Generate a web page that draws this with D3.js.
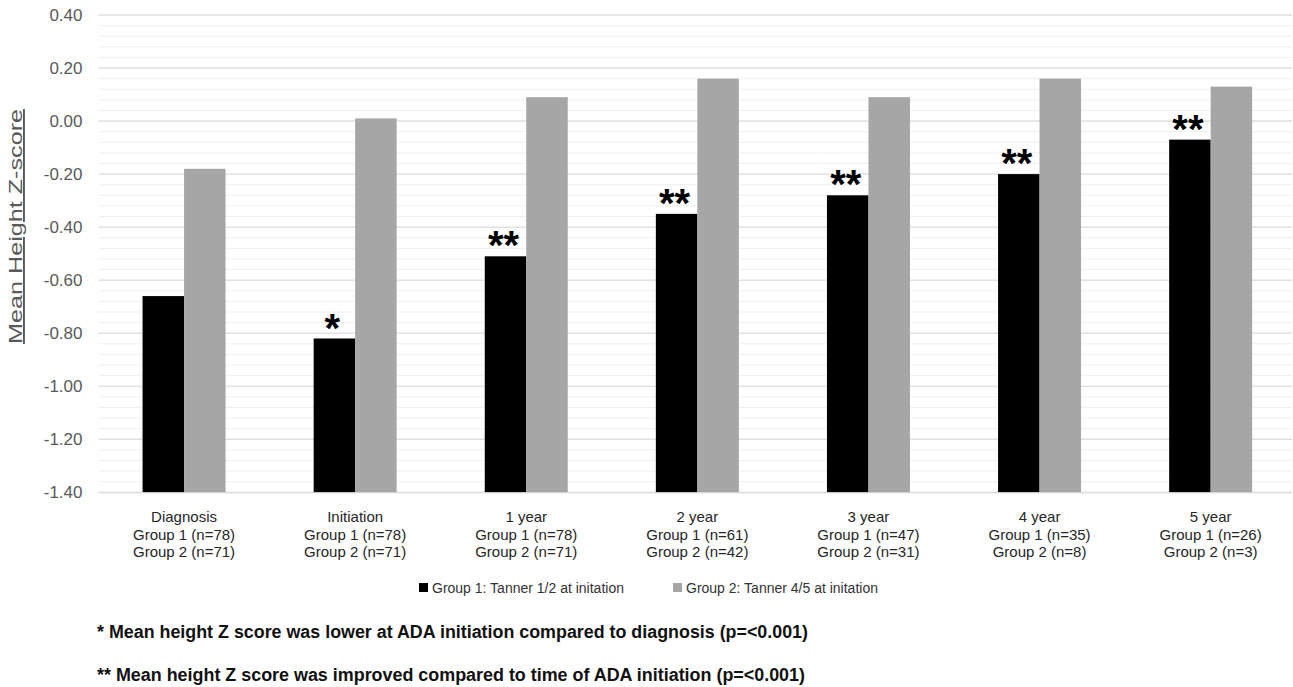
<!DOCTYPE html>
<html>
<head>
<meta charset="utf-8">
<script src="https://cdn.jsdelivr.net/npm/d3@7"></script>
<style>
  html, body { margin: 0; padding: 0; background: #fff; }
  svg { display: block; font-family: "Liberation Sans", Arial, sans-serif; }
</style>
</head>
<body>
<svg id="chart" width="1293" height="687"></svg>
<script>
// Time points and sample sizes per group
const timepoints = ["Diagnosis", "Initiation", "1 year", "2 year", "3 year", "4 year", "5 year"];
const group1N = [78, 78, 78, 61, 47, 35, 26];
const group2N = [71, 71, 71, 42, 31, 8, 3];

// Mean height Z-scores
const group1Values = [-0.66, -0.82, -0.51, -0.35, -0.28, -0.20, -0.07];
const group2Values = [-0.18, 0.01, 0.09, 0.16, 0.09, 0.16, 0.13];

// Significance markers above the Group 1 bars
const significance = ["", "*", "**", "**", "**", "**", "**"];

// Axis ticks
const yTicks = [0.4, 0.2, 0.0, -0.2, -0.4, -0.6, -0.8, -1.0, -1.2, -1.4];
const yMin = -1.4, yMax = 0.4, minorStep = 0.04;

const seriesKeys = ["g1", "g2"];
const seriesNames = ["Group 1: Tanner 1/2 at initation", "Group 2: Tanner 4/5 at initation"];
const seriesColors = ["#000000", "#a6a6a6"];

const footnotes = [
  "* Mean height Z score was lower at ADA initiation compared to diagnosis (p=<0.001)",
  "** Mean height Z score was improved compared to time of ADA initiation (p=<0.001)"
];

const rows = timepoints.map((t, i) => ({
  t, n1: group1N[i], n2: group2N[i], g1: group1Values[i], g2: group2Values[i], sig: significance[i]
}));

const svg = d3.select("#chart");

const plotLeft = 98.5, plotRight = 1296.2, gridRight = 1292;
const x0 = d3.scaleBand().domain(timepoints).range([plotLeft, plotRight])
  .paddingInner(0.515).paddingOuter(0.2575);
const x1 = d3.scaleBand().domain(seriesKeys).range([0, x0.bandwidth()]);
const y = d3.scaleLinear().domain([yMin, yMax]).range([492.3, 15]);

// Minor gridlines
const nMinor = Math.round((yMax - yMin) / minorStep);
const minorVals = d3.range(0, nMinor + 1).map(i => yMin + i * minorStep);
svg.append("g").selectAll("line").data(minorVals).join("line")
  .attr("x1", plotLeft).attr("x2", gridRight)
  .attr("y1", d => y(d)).attr("y2", d => y(d))
  .attr("stroke", "#efefef").attr("stroke-width", 1);

// Major gridlines
svg.append("g").selectAll("line").data(yTicks).join("line")
  .attr("x1", plotLeft).attr("x2", gridRight)
  .attr("y1", d => y(d)).attr("y2", d => y(d))
  .attr("stroke", "#d9d9d9").attr("stroke-width", 1);

// Y axis labels
const fmt = d => d3.format(".2f")(d).replace("\u2212", "-");
const yAxis = svg.append("g").attr("transform", `translate(${plotLeft},0)`)
  .call(d3.axisLeft(y).tickValues(yTicks).tickFormat(fmt).tickSize(0).tickPadding(16));
yAxis.select(".domain").remove();
yAxis.selectAll("text").attr("font-size", 17).attr("fill", "#595959")
  .attr("font-family", "'Liberation Sans', Arial, sans-serif");

// Bars
const groups = svg.append("g").selectAll("g").data(rows).join("g")
  .attr("transform", d => `translate(${x0(d.t)},0)`);
groups.selectAll("rect").data(d => seriesKeys.map((k, i) => ({ k, v: d[k], c: seriesColors[i] })))
  .join("rect")
  .attr("x", d => x1(d.k)).attr("width", x1.bandwidth())
  .attr("y", d => y(d.v)).attr("height", d => y(yMin) - y(d.v))
  .attr("fill", d => d.c);

// Category axis
const xAxis = svg.append("g").attr("transform", `translate(0,${y(yMin)})`)
  .call(d3.axisBottom(x0).tickSize(0).tickFormat(""));
xAxis.select(".domain").attr("stroke", "#d9d9d9").attr("d", `M${plotLeft},0.5H${gridRight}`);
xAxis.selectAll(".tick text").remove();

const catLabels = svg.append("g").selectAll("text").data(rows).join("text")
  .attr("x", d => x0(d.t) + x0.bandwidth() / 2)
  .attr("text-anchor", "middle")
  .attr("font-size", 15).attr("fill", "#262626");
catLabels.each(function(d) {
  const lines = [d.t, `Group 1 (n=${d.n1})`, `Group 2 (n=${d.n2})`];
  d3.select(this).selectAll("tspan").data(lines).join("tspan")
    .attr("x", x0(d.t) + x0.bandwidth() / 2)
    .attr("y", (l, i) => 522 + i * 17.5)
    .text(l => l);
});

// Significance markers
svg.append("g").selectAll("text").data(rows.filter(d => d.sig)).join("text")
  .attr("x", d => x0(d.t) + x1("g1") + x1.bandwidth() / 2 - 2)
  .attr("y", d => y(d.g1) + 3)
  .attr("text-anchor", "middle")
  .attr("font-size", 40).attr("font-weight", "bold").attr("fill", "#000")
  .text(d => d.sig);

// Y axis title
svg.append("text")
  .attr("transform", "translate(22,226.5) rotate(-90)")
  .attr("text-anchor", "middle")
  .attr("font-size", 19).attr("fill", "#595959")
  .attr("text-decoration", "underline")
  .attr("textLength", 235).attr("lengthAdjust", "spacingAndGlyphs")
  .text("Mean Height Z-score");

// Legend
const legendX = [419, 673];
const legend = svg.append("g").selectAll("g").data(seriesNames).join("g")
  .attr("transform", (d, i) => `translate(${legendX[i]},0)`);
legend.append("rect").attr("x", 0).attr("y", 583).attr("width", 9).attr("height", 9)
  .attr("fill", (d, i) => seriesColors[i]);
legend.append("text").attr("x", 13).attr("y", 593)
  .attr("font-size", 14).attr("fill", "#333")
  .text(d => d);

// Footnotes
const footWidths = [711, 708];
svg.append("g").selectAll("text").data(footnotes).join("text")
  .attr("x", 97).attr("y", (d, i) => 638 + i * 43)
  .attr("font-family", "'Liberation Sans Narrow', 'Arial Narrow', 'Liberation Sans', sans-serif")
  .attr("font-size", 18).attr("font-weight", "bold").attr("fill", "#111")
  .attr("textLength", (d, i) => footWidths[i]).attr("lengthAdjust", "spacingAndGlyphs")
  .text(d => d);
</script>
</body>
</html>
